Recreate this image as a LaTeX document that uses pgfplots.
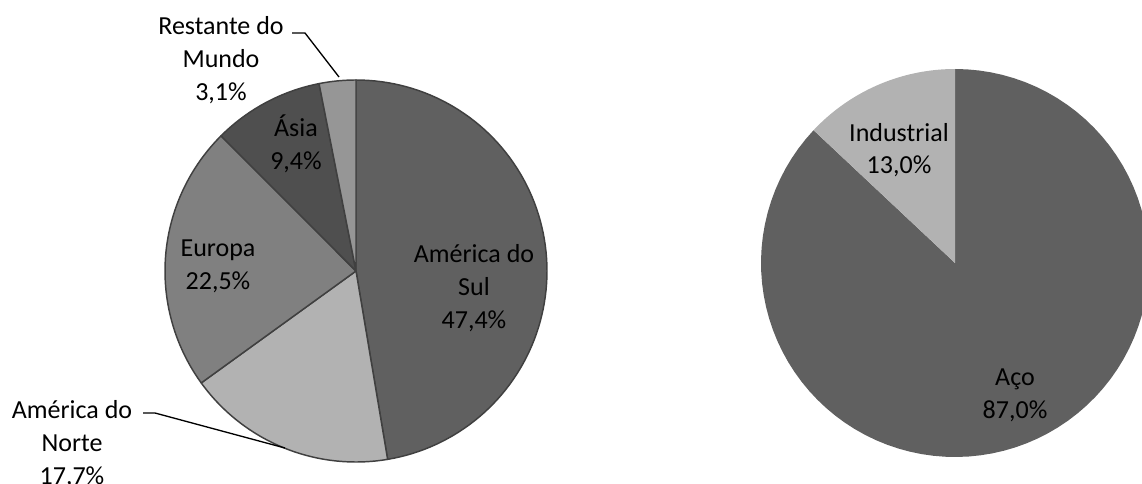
\documentclass[border=0pt]{standalone}
\usepackage{pgfplots}
\pgfplotsset{compat=1.18}
\usepackage{fontspec}
\setmainfont{Carlito}
\definecolor{cSul}{HTML}{606060}
\definecolor{cNorte}{HTML}{B2B2B2}
\definecolor{cEuropa}{HTML}{808080}
\definecolor{cAsia}{HTML}{4F4F4F}
\definecolor{cResto}{HTML}{969696}
\definecolor{cAco}{HTML}{606060}
\definecolor{cInd}{HTML}{B2B2B2}
\definecolor{edge}{HTML}{404040}
% slice: cx cy r start end color drawcolor
\newcommand{\pieslice}[7]{%
  \addplot[fill=#6, draw=#7, line width=1.1pt, line join=round, domain=#4:#5, samples=90, variable=\t]
    ({#1+#3*sin(\t)},{#2-#3*cos(\t)}) -- (axis cs:#1,#2) -- cycle;
}
\begin{document}
\begin{tikzpicture}
% data (percent)
\pgfmathsetmacro{\pSul}{47.4}
\pgfmathsetmacro{\pNorte}{17.7}
\pgfmathsetmacro{\pEuropa}{22.5}
\pgfmathsetmacro{\pAsia}{9.4}
\pgfmathsetmacro{\pResto}{3.1}
\pgfmathsetmacro{\pAco}{87.0}
\pgfmathsetmacro{\pInd}{13.0}
\pgfmathsetmacro{\tot}{\pSul+\pNorte+\pEuropa+\pAsia+\pResto}
\pgfmathsetmacro{\aA}{\pSul/\tot*360}
\pgfmathsetmacro{\aB}{(\pSul+\pNorte)/\tot*360}
\pgfmathsetmacro{\aC}{(\pSul+\pNorte+\pEuropa)/\tot*360}
\pgfmathsetmacro{\aD}{(\pSul+\pNorte+\pEuropa+\pAsia)/\tot*360}
\pgfmathsetmacro{\bA}{\pAco/(\pAco+\pInd)*360}
\begin{axis}[hide axis, scale only axis, width=856.5pt, height=363pt,
  xmin=0, xmax=1142, ymin=0, ymax=484, y dir=reverse, clip=true]
\pieslice{356}{271}{191}{0}{\aA}{cSul}{edge}
\pieslice{356}{271}{191}{\aA}{\aB}{cNorte}{edge}
\pieslice{356}{271}{191}{\aB}{\aC}{cEuropa}{edge}
\pieslice{356}{271}{191}{\aC}{\aD}{cAsia}{edge}
\pieslice{356}{271}{191}{\aD}{360}{cResto}{edge}
\pieslice{955}{263}{194}{0}{\bA}{cAco}{none}
\pieslice{955}{263}{194}{\bA}{360}{cInd}{none}
\draw[black, line width=1pt] (axis cs:143,413) -- (axis cs:155,413) -- (axis cs:285,448);
\draw[black, line width=1pt] (axis cs:292,33) -- (axis cs:305,33) -- (axis cs:339,77);
\tikzset{lab/.style={align=center, inner sep=0pt, font=\fontsize{19.5}{24.5}\selectfont}}
\node[lab] at (axis cs:474,288) {América do\\Sul\\47,4\%};
\node[lab] at (axis cs:218,266) {Europa\\22,5\%};
\node[lab] at (axis cs:296,144) {Ásia\\9,4\%};
\node[lab] at (axis cs:221,60) {Restante do\\Mundo\\3,1\%};
\node[lab] at (axis cs:72,444) {América do\\Norte\\17,7\%};
\node[lab] at (axis cs:899,150) {Industrial\\13,0\%};
\node[lab] at (axis cs:1015,395) {Aço\\87,0\%};
\end{axis}
\pgfresetboundingbox
\path (current axis.south west) rectangle (current axis.north east);
\end{tikzpicture}
\end{document}
